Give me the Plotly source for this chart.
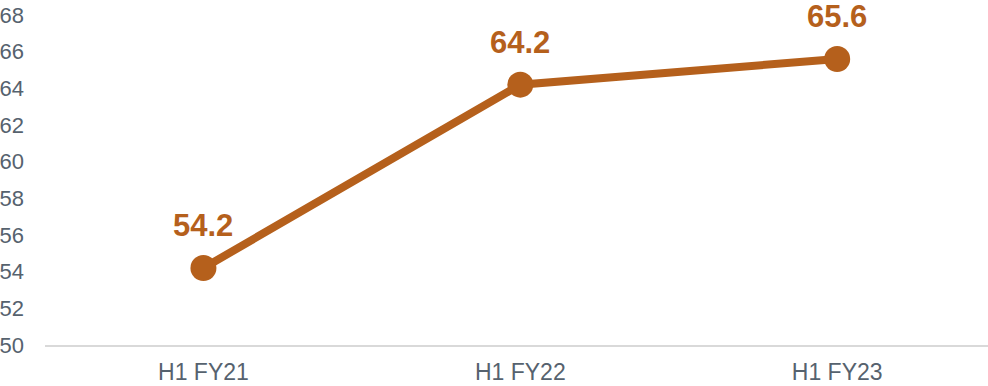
import plotly.graph_objects as go

periods = ["H1 FY21", "H1 FY22", "H1 FY23"]
values = [54.2, 64.2, 65.6]
y_ticks = [50, 52, 54, 56, 58, 60, 62, 64, 66, 68]

ORANGE = "#B5601C"
SLATE = "#56626E"

fig = go.Figure()
fig.add_trace(go.Scatter(
    x=periods,
    y=values,
    mode="lines+markers",
    line=dict(color=ORANGE, width=8),
    marker=dict(color=ORANGE, size=26),
    hoverinfo="skip",
))

for p, v in zip(periods, values):
    fig.add_annotation(
        x=p, y=v, text=f"<b>{v:.1f}</b>",
        showarrow=False, yanchor="bottom", yshift=23,
        font=dict(family="Liberation Sans, Arial", size=31, color=ORANGE),
    )

fig.update_layout(
    width=988, height=386,
    margin=dict(l=45, r=0, t=15, b=41),
    paper_bgcolor="white", plot_bgcolor="white",
    showlegend=False,
    font=dict(family="Liberation Sans, Arial", color=SLATE),
)
fig.update_xaxes(
    type="category",
    range=[-0.5, 2.476],
    showgrid=False,
    showline=True, linecolor="#D9D9D9", linewidth=2,
    ticks="", tickfont=dict(size=23, color=SLATE),
    ticklabelstandoff=5,
)
fig.update_yaxes(
    range=[50, 68],
    tickvals=y_ticks,
    showgrid=False, zeroline=False, showline=False,
    ticks="", tickfont=dict(size=22, color=SLATE),
    ticklabelstandoff=20,
)

fig.write_html("out.html")
